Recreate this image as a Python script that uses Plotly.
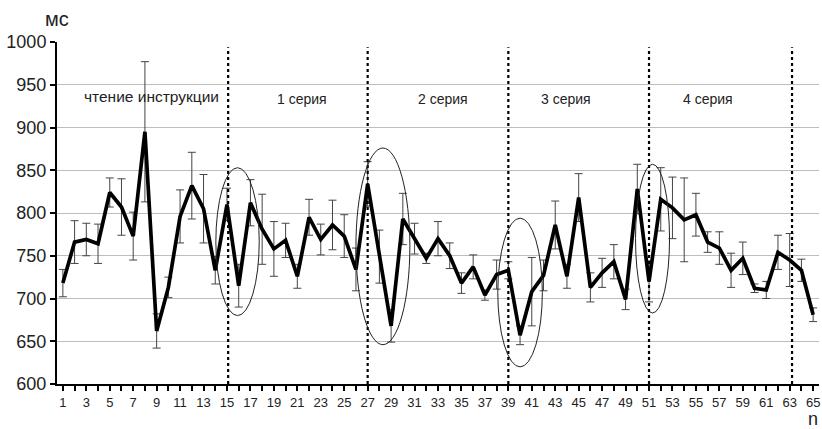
import plotly.graph_objects as go

n_values = list(range(1, 66))
mean_ms = [718, 766, 769, 764, 824, 807, 773, 895, 662, 713,
           796, 832, 805, 733, 810, 715, 812, 781, 758, 768,
           726, 795, 769, 786, 773, 734, 834, 749, 668, 793,
           770, 747, 770, 750, 718, 737, 704, 728, 733, 657,
           708, 727, 786, 726, 818, 713, 730, 743, 699, 828,
           720, 816, 806, 792, 798, 766, 759, 733, 747, 712,
           710, 754, 745, 733, 681]
err_ms = [16, 25, 19, 23, 17, 33, 28, 82, 20, 12,
          31, 39, 40, 16, 19, 25, 27, 41, 32, 20,
          14, 21, 18, 29, 25, 25, 26, 31, 19, 30,
          18, 6, 20, 15, 12, 14, 6, 17, 10, 11,
          40, 18, 28, 14, 28, 17, 17, 20, 12, 29,
          24, 37, 36, 49, 25, 12, 19, 20, 19, 5,
          10, 20, 31, 13, 8]

divider_x = [15.1, 27, 39, 51, 63.2]
section_labels = ["чтение инструкции", "1 серия", "2 серия", "3 серия", "4 серия"]
section_label_x = [8.6, 21.4, 33.4, 43.9, 56.0]
section_label_y = [936, 933, 933, 933, 933]
section_label_size = [15.5, 14, 14, 14, 14]
# ellipses: (x center, half width, y top, y bottom)
ellipses = [(15.9, 1.85, 853, 680), (28.3, 2.3, 876, 646),
            (40.0, 1.9, 794, 620), (51.3, 1.45, 857, 683)]

y_ticks = list(range(600, 1001, 50))
x_ticktext = [str(v) if v % 2 == 1 else "" for v in n_values]

fig = go.Figure()
fig.add_trace(go.Scatter(
    x=n_values, y=mean_ms, mode="lines",
    line=dict(color="black", width=3.7),
    error_y=dict(type="data", array=err_ms, visible=True,
                 color="#444444", thickness=1, width=4),
    showlegend=False, hoverinfo="skip"))

shapes = []
for dx in divider_x:
    shapes.append(dict(type="line", xref="x", yref="y", x0=dx, x1=dx,
                       y0=600, y1=994,
                       line=dict(color="black", width=2.2, dash="dot")))
for cx, hw, yt, yb in ellipses:
    shapes.append(dict(type="circle", xref="x", yref="y",
                       x0=cx - hw, x1=cx + hw, y0=yb, y1=yt,
                       line=dict(color="#222", width=1)))

annotations = []
for t, ax_, ay_, fs in zip(section_labels, section_label_x, section_label_y,
                           section_label_size):
    annotations.append(dict(x=ax_, y=ay_, xref="x", yref="y", text=t,
                            showarrow=False,
                            font=dict(size=fs, color="#222")))
annotations.append(dict(x=-0.0184, y=1.066, xref="paper", yref="paper",
                        text="мс", xanchor="left", yanchor="middle",
                        showarrow=False, font=dict(size=20, color="#222")))
annotations.append(dict(x=0.992, y=-0.101, xref="paper", yref="paper",
                        text="n", xanchor="center", yanchor="middle",
                        height=15, valign="middle", borderpad=0,
                        showarrow=False, font=dict(size=18, color="#222")))

fig.update_layout(
    width=822, height=429,
    margin=dict(l=57, r=3, t=42, b=45),
    paper_bgcolor="white", plot_bgcolor="white",
    font=dict(family="Liberation Sans, Arial", color="#222"),
    shapes=shapes,
    annotations=annotations,
    xaxis=dict(range=[0.5, 65.5], tickmode="array", tickvals=n_values,
               ticktext=x_ticktext, ticks="outside", ticklen=5, tickwidth=2,
               tickcolor="black", showline=True, linecolor="black",
               linewidth=2, showgrid=False, zeroline=False,
               tickfont=dict(size=13, color="#222")),
    yaxis=dict(range=[600, 1000], tickmode="array", tickvals=y_ticks,
               ticks="outside", ticklen=5, tickwidth=2, tickcolor="black",
               showline=True, linecolor="black", linewidth=2,
               showgrid=True, gridcolor="#bdbdbd", gridwidth=1,
               zeroline=False, tickfont=dict(size=18, color="#222")),
)

fig.write_html("out.html", config={"displayModeBar": False})
